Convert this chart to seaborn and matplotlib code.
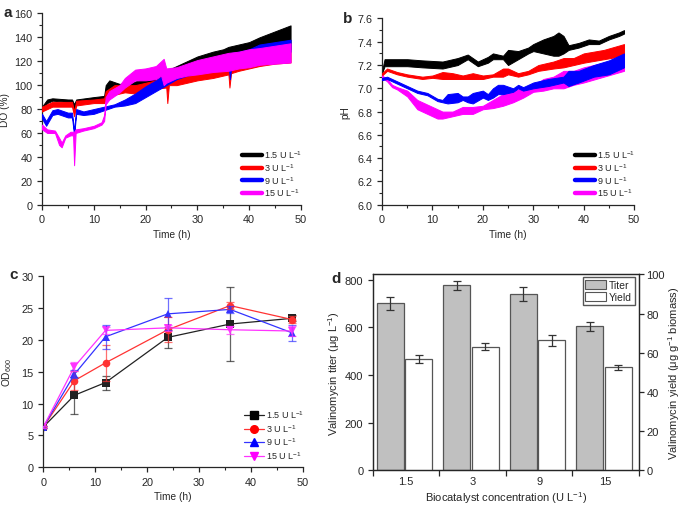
import numpy as np
import pandas as pd
import matplotlib
matplotlib.use("Agg")
import matplotlib.pyplot as plt
import seaborn as sns
from matplotlib.lines import Line2D
from matplotlib.patches import Patch
from matplotlib.ticker import MultipleLocator, NullFormatter, FixedLocator

# ---- data: (a) DO envelopes ----
labels = ["1.5 U L$^{-1}$", "3 U L$^{-1}$", "9 U L$^{-1}$", "15 U L$^{-1}$"]
colors = ["#000000", "#ff0000", "#0000ff", "#ff00ff"]

do_t_15 = [0, 1, 2, 5, 5.8, 6.2, 6.6, 10, 12, 12.3, 13, 15, 18, 20, 22, 25, 28, 30, 33, 35, 36, 38, 40, 42, 45, 48]
do_lo_15 = [78, 85, 87, 86, 86, 80, 86, 88, 88, 95, 96, 97, 98, 99, 101, 104, 108, 112, 116, 118, 116, 122, 124, 127, 128, 130]
do_hi_15 = [82, 88, 89, 88, 88, 84, 88, 90, 91, 100, 104, 101, 103, 106, 110, 114, 120, 124, 128, 130, 132, 134, 136, 140, 145, 150]

do_t_3 = [0, 1, 2, 5, 5.8, 6.2, 6.6, 10, 12, 12.3, 14, 16, 18, 20, 22, 24, 24.2, 24.5, 26, 28, 30, 33, 36, 36.2, 36.5, 38, 40, 42, 45, 48]
do_lo_3 = [78, 80, 82, 82, 82, 74, 83, 85, 85, 88, 92, 94, 93, 95, 97, 98, 85, 100, 100, 102, 104, 106, 109, 98, 110, 112, 114, 116, 118, 119]
do_hi_3 = [82, 84, 86, 86, 86, 78, 87, 88, 89, 95, 100, 100, 100, 102, 104, 106, 106, 106, 108, 110, 112, 114, 117, 117, 118, 120, 123, 126, 130, 135]

do_t_9 = [0, 0.8, 2, 3, 5, 5.8, 6.2, 6.6, 8, 10, 12, 14, 16, 18, 20, 22, 24, 26, 28, 30, 33, 35, 36, 36.3, 36.6, 38, 40, 42, 45, 48]
do_lo_9 = [72, 66, 75, 76, 73, 73, 58, 76, 75, 76, 79, 82, 83, 85, 90, 95, 100, 105, 108, 110, 113, 116, 118, 105, 118, 118, 122, 125, 127, 128]
do_hi_9 = [76, 70, 79, 80, 77, 77, 62, 80, 78, 80, 82, 84, 88, 93, 99, 104, 110, 113, 116, 120, 122, 125, 126, 126, 127, 128, 130, 134, 136, 138]

do_t_15u = [0, 1, 2.5, 3.3, 3.8, 4.5, 5.5, 6, 6.2, 6.5, 8, 10, 11.5, 12, 12.3, 13, 15, 16, 18, 20, 22, 23, 23.5, 24, 26, 28, 30, 33, 36, 38, 40, 42, 45, 48]
do_lo_15u = [63, 60, 60, 50, 48, 56, 58, 58, 33, 60, 62, 64, 67, 70, 84, 88, 94, 98, 104, 104, 105, 108, 100, 102, 106, 108, 109, 111, 112, 114, 115, 117, 118, 119]
do_hi_15u = [67, 63, 62, 56, 52, 58, 61, 61, 61, 63, 64, 66, 69, 75, 90, 95, 100, 106, 113, 114, 116, 120, 122, 114, 115, 118, 121, 124, 127, 128, 130, 131, 133, 135]

# ---- (b) pH envelopes ----
ph_t_15 = [0, 0.5, 5, 8, 12, 15, 17, 19, 21, 22, 24, 25, 27, 29, 30, 32, 34, 35, 36, 37, 39, 41, 43, 45, 47, 48]
ph_lo_15 = [7.13, 7.19, 7.19, 7.18, 7.17, 7.20, 7.25, 7.19, 7.22, 7.25, 7.25, 7.20, 7.25, 7.30, 7.32, 7.30, 7.28, 7.28, 7.30, 7.33, 7.35, 7.38, 7.38, 7.42, 7.45, 7.47]
ph_hi_15 = [7.15, 7.25, 7.25, 7.24, 7.23, 7.26, 7.29, 7.23, 7.27, 7.30, 7.28, 7.33, 7.32, 7.35, 7.38, 7.42, 7.45, 7.48, 7.45, 7.37, 7.39, 7.42, 7.41, 7.45, 7.48, 7.50]

ph_t_3 = [0, 1, 3, 5, 8, 10, 12, 14, 16, 18, 20, 22, 24, 25, 27, 29, 31, 34, 36, 38, 40, 44, 48]
ph_lo_3 = [7.11, 7.15, 7.12, 7.10, 7.08, 7.09, 7.08, 7.08, 7.08, 7.08, 7.08, 7.10, 7.10, 7.12, 7.10, 7.12, 7.15, 7.17, 7.18, 7.20, 7.22, 7.25, 7.28]
ph_hi_3 = [7.13, 7.17, 7.14, 7.12, 7.10, 7.11, 7.14, 7.13, 7.11, 7.13, 7.11, 7.12, 7.17, 7.17, 7.13, 7.15, 7.20, 7.23, 7.26, 7.26, 7.30, 7.33, 7.38]

ph_t_9 = [0, 1, 3, 5, 7, 9, 11, 12, 13, 15, 16, 17, 18, 20, 21, 22, 23, 24, 26, 27, 28, 30, 33, 36, 37, 39, 42, 45, 48]
ph_lo_9 = [7.07, 7.08, 7.04, 7.00, 6.96, 6.94, 6.89, 6.88, 6.87, 6.88, 6.90, 6.88, 6.87, 6.92, 6.90, 6.92, 6.95, 6.95, 6.97, 7.00, 6.98, 7.00, 7.02, 7.05, 7.02, 7.05, 7.10, 7.12, 7.18]
ph_hi_9 = [7.09, 7.10, 7.06, 7.02, 6.98, 6.96, 6.91, 6.90, 6.95, 6.96, 6.93, 6.93, 6.96, 6.98, 6.95, 7.00, 7.03, 7.03, 7.00, 7.03, 7.01, 7.05, 7.08, 7.10, 7.15, 7.15, 7.20, 7.24, 7.30]

ph_t_15u = [0, 1, 2, 3, 5, 7, 9, 10, 11, 12, 14, 16, 18, 20, 22, 24, 26, 28, 30, 32, 34, 36, 38, 40, 44, 48]
ph_lo_15u = [7.09, 7.06, 7.01, 6.99, 6.93, 6.82, 6.78, 6.76, 6.74, 6.74, 6.76, 6.78, 6.78, 6.82, 6.83, 6.85, 6.88, 6.92, 6.97, 6.98, 7.00, 7.00, 7.03, 7.05, 7.10, 7.15]
ph_hi_15u = [7.11, 7.08, 7.03, 7.01, 6.98, 6.90, 6.86, 6.84, 6.82, 6.80, 6.80, 6.84, 6.84, 6.85, 6.90, 6.95, 6.98, 7.00, 7.02, 7.08, 7.10, 7.15, 7.15, 7.18, 7.22, 7.25]

# ---- (c) OD600 ----
od_time = [0, 6, 12, 24, 36, 48]
od_15 = [6.3, 11.3, 13.3, 20.4, 22.5, 23.4]
od_15_err = [0.2, 2.9, 1.1, 1.7, 5.8, 0.5]
od_3 = [6.3, 13.6, 16.4, 21.6, 25.4, 23.2]
od_3_err = [0.2, 1.5, 2.8, 2.0, 0.6, 0.6]
od_9 = [6.3, 14.6, 20.5, 24.1, 24.8, 21.1]
od_9_err = [0.2, 0.6, 1.9, 2.5, 0.5, 1.3]
od_15u = [6.3, 15.8, 21.5, 21.9, 21.6, 21.4]
od_15u_err = [0.2, 0.7, 0.5, 0.5, 0.6, 0.8]

# ---- (d) titer and yield ----
conc = ["1.5", "3", "9", "15"]
titer = [700, 777, 740, 604]
titer_err = [26, 19, 30, 19]
yld = [56.6, 63.1, 66.3, 52.5]
yld_err = [2.0, 1.7, 2.7, 1.5]

sns.set_style("ticks")
plt.rcParams["font.family"] = ["Liberation Sans", "DejaVu Sans"]
plt.rcParams["mathtext.default"] = "regular"
plt.rcParams["font.size"] = 8
plt.rcParams["xtick.direction"] = "out"
plt.rcParams["ytick.direction"] = "out"
plt.rcParams["xtick.major.size"] = 3.5
plt.rcParams["ytick.major.size"] = 3.5
plt.rcParams["xtick.minor.size"] = 2
plt.rcParams["ytick.minor.size"] = 2
plt.rcParams["axes.linewidth"] = 0.9

fig = plt.figure(figsize=(6.85, 5.06), dpi=100)
ax_a = fig.add_axes([0.0613, 0.5935, 0.378, 0.378])
ax_b = fig.add_axes([0.5577, 0.5935, 0.368, 0.368])
ax_c = fig.add_axes([0.0632, 0.0749, 0.3787, 0.377])
ax_d = fig.add_axes([0.5445, 0.0684, 0.388, 0.3875])

LAB = 7.3   # axis label size for a-c
TICK = 7.8
LEG = 6.5


def open_axes(ax):
    ax.spines["top"].set_visible(False)
    ax.spines["right"].set_visible(False)
    ax.tick_params(labelsize=TICK, width=0.9)
    ax.tick_params(which="minor", width=0.8)


def band(ax, t, lo, hi, color, z):
    ax.fill_between(t, lo, hi, color=color, edgecolor=color, lw=0.7, zorder=z)


def line_legend(ax):
    handles = [Line2D([], [], color=c, lw=3.2) for c in colors]
    ax.legend(handles, labels, loc="lower right", bbox_to_anchor=(1.03, 0.0),
              frameon=False, fontsize=LEG, handlelength=2.2,
              handletextpad=0.25, labelspacing=0.12, borderaxespad=0.3)


# (a) DO
band(ax_a, do_t_15, do_lo_15, do_hi_15, colors[0], 2)
band(ax_a, do_t_3, do_lo_3, do_hi_3, colors[1], 3)
band(ax_a, do_t_9, do_lo_9, do_hi_9, colors[2], 4)
band(ax_a, do_t_15u, do_lo_15u, do_hi_15u, colors[3], 5)
ax_a.set_xlim(0, 50)
ax_a.set_ylim(0, 160)
ax_a.xaxis.set_major_locator(MultipleLocator(10))
ax_a.xaxis.set_minor_locator(MultipleLocator(5))
ax_a.yaxis.set_major_locator(MultipleLocator(20))
ax_a.yaxis.set_minor_locator(MultipleLocator(10))
ax_a.set_xlabel("Time (h)", fontsize=LAB, labelpad=3)
ax_a.set_ylabel("DO (%)", fontsize=LAB, labelpad=3)
open_axes(ax_a)
line_legend(ax_a)

# (b) pH
band(ax_b, ph_t_15, ph_lo_15, ph_hi_15, colors[0], 2)
band(ax_b, ph_t_3, ph_lo_3, ph_hi_3, colors[1], 3)
band(ax_b, ph_t_15u, ph_lo_15u, ph_hi_15u, colors[3], 4)
band(ax_b, ph_t_9, ph_lo_9, ph_hi_9, colors[2], 5)
ax_b.set_xlim(0, 50)
ax_b.set_ylim(6.0, 7.6)
ax_b.xaxis.set_major_locator(MultipleLocator(10))
ax_b.xaxis.set_minor_locator(MultipleLocator(5))
ax_b.yaxis.set_major_locator(MultipleLocator(0.2))
ax_b.yaxis.set_minor_locator(MultipleLocator(0.1))
ax_b.yaxis.set_major_formatter(matplotlib.ticker.FormatStrFormatter("%.1f"))
ax_b.set_xlabel("Time (h)", fontsize=LAB, labelpad=3)
ax_b.set_ylabel("pH", fontsize=LAB, labelpad=5)
open_axes(ax_b)
line_legend(ax_b)

# (c) OD600
od_df = pd.DataFrame({
    "Time": od_time * 4,
    "OD": od_15 + od_3 + od_9 + od_15u,
    "err": od_15_err + od_3_err + od_9_err + od_15u_err,
    "Dose": sum([[lab] * len(od_time) for lab in labels], []),
})
markers = ["s", "o", "^", "v"]
line_cols = ["#222222", "#ff3333", "#3333ff", "#ff33ff"]
for i, lab in enumerate(labels):
    sub = od_df[od_df["Dose"] == lab]
    ax_c.errorbar(sub["Time"], sub["OD"], yerr=sub["err"], fmt="none",
                  ecolor=line_cols[i], alpha=0.7, elinewidth=0.9, capsize=3,
                  capthick=0.9, zorder=2 + i)
sns.lineplot(data=od_df, x="Time", y="OD", hue="Dose", style="Dose",
             markers=markers, dashes=False, palette=line_cols, ax=ax_c,
             lw=0.9, markersize=5.5, markeredgewidth=0,
             hue_order=labels, style_order=labels)
for ln, c in zip(ax_c.get_lines()[-4:], colors):
    ln.set_markerfacecolor(c)
    ln.set_markeredgecolor(c)
ax_c.set_xlim(0, 50)
ax_c.set_ylim(0, 30)
ax_c.xaxis.set_major_locator(MultipleLocator(10))
ax_c.xaxis.set_minor_locator(MultipleLocator(5))
ax_c.yaxis.set_major_locator(MultipleLocator(5))
ax_c.set_xlabel("Time (h)", fontsize=LAB, labelpad=3)
ax_c.set_ylabel("OD$_{600}$", fontsize=LAB, labelpad=5)
open_axes(ax_c)
handles = [Line2D([], [], color=line_cols[i], lw=0.9, marker=markers[i],
                  markersize=5.5, markerfacecolor=colors[i],
                  markeredgecolor=colors[i]) for i in range(4)]
ax_c.legend(handles, labels, loc="lower right", bbox_to_anchor=(1.03, 0.0),
            frameon=False, fontsize=LEG, handlelength=2.2,
            handletextpad=0.25, labelspacing=0.2, borderaxespad=0.3)

# (d) titer / yield
x = np.arange(len(conc))
ax_d.bar(x - 0.24, titer, width=0.405, color="#c0c0c0", edgecolor="#555555",
         lw=0.9, yerr=titer_err, capsize=3,
         error_kw=dict(ecolor="#333333", elinewidth=0.9, capthick=0.9))
ax_d2 = ax_d.twinx()
ax_d2.bar(x + 0.19, yld, width=0.405, color="white", edgecolor="#555555",
          lw=0.9, yerr=yld_err, capsize=3,
          error_kw=dict(ecolor="#333333", elinewidth=0.9, capthick=0.9))
ax_d.set_xlim(-0.5, len(conc) - 0.5)
ax_d.set_ylim(0, 822)
ax_d2.set_ylim(0, 100)
ax_d.yaxis.set_major_locator(MultipleLocator(200))
ax_d2.yaxis.set_major_locator(MultipleLocator(20))
ax_d.xaxis.set_major_locator(FixedLocator(np.arange(-0.5, len(conc), 1.0)))
ax_d.xaxis.set_major_formatter(NullFormatter())
ax_d.set_xticks(x, minor=True)
ax_d.set_xticklabels(conc, minor=True)
ax_d.tick_params(axis="x", which="minor", length=0, labelsize=8, pad=4)
ax_d.tick_params(axis="x", which="major", length=4, width=0.9)
ax_d.tick_params(axis="y", labelsize=8, width=0.9, length=3.5)
ax_d2.tick_params(axis="y", labelsize=8, width=0.9, length=3.5, pad=2)
for sp in ax_d.spines.values():
    sp.set_color("#444444")
ax_d.set_xlabel("Biocatalyst concentration (U L$^{-1}$)", fontsize=8, labelpad=2)
ax_d.set_ylabel("Valinomycin titer (\u03bcg L$^{-1}$)", fontsize=8, labelpad=2)
ax_d2.set_ylabel("Valinomycin yield (\u03bcg g$^{-1}$ biomass)", fontsize=8, labelpad=1)
leg_handles = [Patch(facecolor="#c0c0c0", edgecolor="#555555", lw=0.8),
               Patch(facecolor="white", edgecolor="#555555", lw=0.8)]
ax_d2.legend(leg_handles, ["Titer", "Yield"], loc="upper right",
             bbox_to_anchor=(0.985, 0.985), borderaxespad=0, fontsize=7.5,
             fancybox=False, edgecolor="#555555", framealpha=1,
             handlelength=2.0, handleheight=1.0, handletextpad=0.3,
             labelspacing=0.2, borderpad=0.25)

# panel letters
for lab, (px, py) in zip("abcd", [(3, 17), (343, 23), (9, 279), (331, 283)]):
    fig.text(px / 685, 1 - py / 506, lab, fontsize=11, fontweight="bold",
             family=["Liberation Sans", "DejaVu Sans"])

fig.savefig("out.png", dpi=100)
